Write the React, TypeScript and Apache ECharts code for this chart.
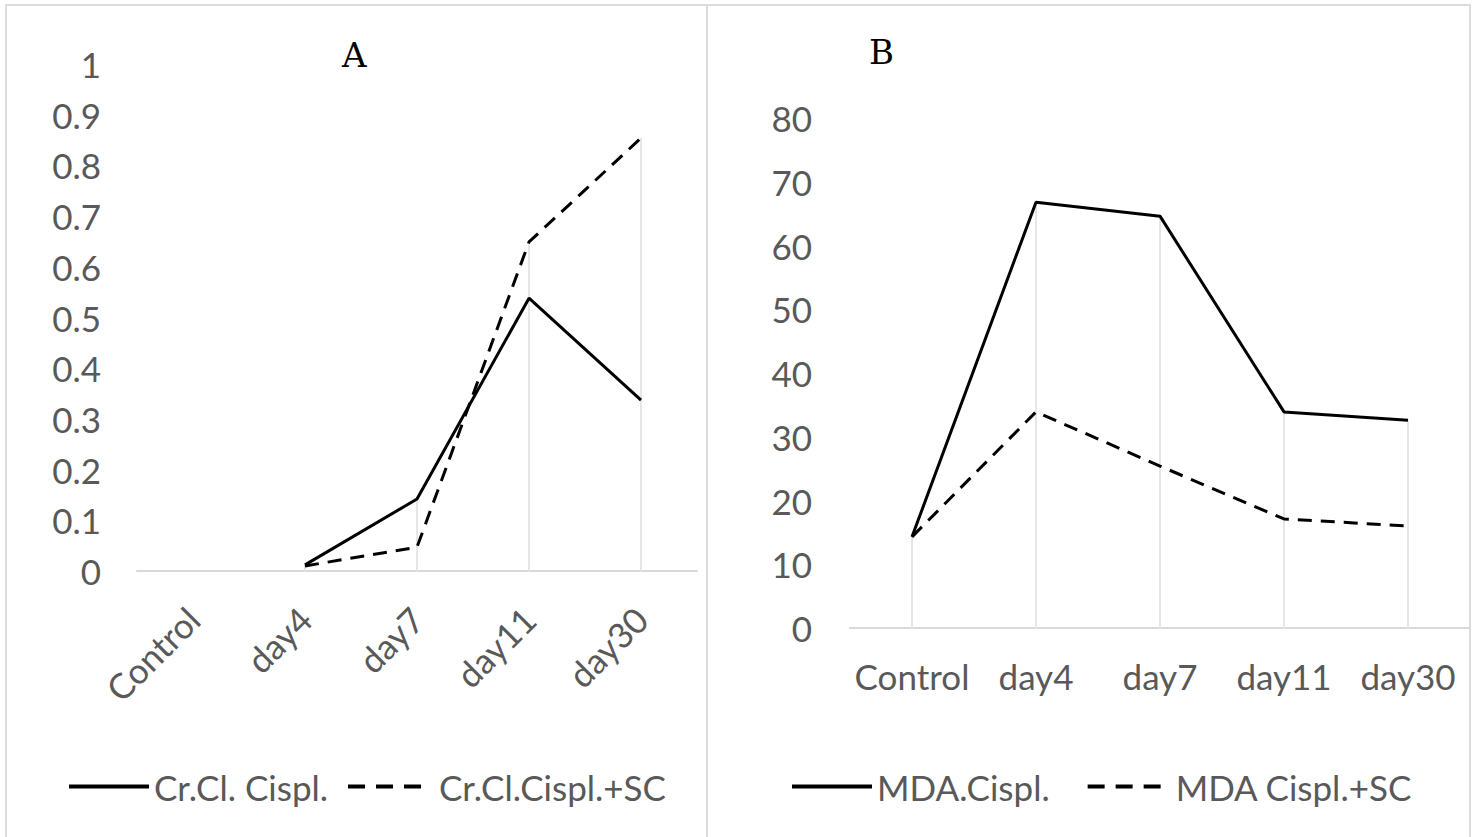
import React, { useEffect, useRef } from "react";
import * as echarts from "echarts";

const categories = ["Control", "day4", "day7", "day11", "day30"];
const crClCispl: (number | null)[] = [null, 0.012, 0.142, 0.538, 0.337];
const crClCisplSC: (number | null)[] = [null, 0.01, 0.047, 0.649, 0.854];
const mdaCispl = [14.3, 66.8, 64.6, 33.9, 32.6];
const mdaCisplSC = [14.3, 33.9, 25.4, 17.1, 16.0];
const yTicksA = { min: 0, max: 1, interval: 0.1 };
const yTicksB = { min: 0, max: 80, interval: 10 };

const FONT = "Lato";
const GRAY = "#595959";
const GRID = "#d9d9d9";

function maxOf(a: (number | null)[], b: (number | null)[]) {
  return a.map((v, i) => {
    const w = b[i];
    if (v == null && w == null) return null;
    return Math.max(v ?? -Infinity, w ?? -Infinity);
  });
}

export default function App() {
  const ref = useRef<HTMLDivElement>(null);
  useEffect(() => {
    const chart = echarts.init(ref.current!, null, { renderer: "svg" });
    const axisLabel = { color: GRAY, fontFamily: FONT, fontSize: 35 };
    const solid = { color: "#000", width: 3, type: "solid" as const };
    const dashed = { color: "#000", width: 3, type: [14, 9] as any };
    const legendCommon = {
      top: 764,
      itemWidth: 80,
      itemHeight: 4,
      itemStyle: { opacity: 0 },
      lineStyle: { width: 4 },
      textStyle: { color: GRAY, fontFamily: FONT, fontSize: 35 },
    };
    const solidLegendItem = (name: string) => ({
      name,
      lineStyle: { width: 4 },
    });
    const dashedLegendItem = (name: string, pad: number) => ({
      name,
      lineStyle: { width: 4, type: [17, 11] },
      textStyle: { padding: [0, 0, 0, pad] },
    });
    chart.setOption({
      animation: false,
      backgroundColor: "#fff",
      graphic: [
        {
          type: "rect",
          shape: { x: 6, y: 5, width: 1464, height: 860 },
          style: { fill: "none", stroke: "#dcdcdc", lineWidth: 2 },
          silent: true,
        },
        {
          type: "line",
          shape: { x1: 707, y1: 5, x2: 707, y2: 837 },
          style: { stroke: "#dcdcdc", lineWidth: 2 },
          silent: true,
        },
        {
          type: "text",
          left: 342,
          top: 38,
          style: { text: "A", fontFamily: "DejaVu Serif", fontSize: 34, fill: "#000" },
        },
        {
          type: "text",
          left: 869,
          top: 35,
          style: { text: "B", fontFamily: "DejaVu Serif", fontSize: 34, fill: "#000" },
        },
      ],
      grid: [
        { left: 137, top: 64, width: 560, height: 507 },
        { left: 850, top: 118, width: 620, height: 510 },
      ],
      xAxis: [
        {
          type: "category",
          gridIndex: 0,
          data: categories,
          boundaryGap: true,
          axisLine: { lineStyle: { color: GRID, width: 2 } },
          axisTick: { show: false },
          axisLabel: { ...axisLabel, rotate: 45, margin: 42, interval: 0 },
          splitLine: { show: false },
        },
        {
          type: "category",
          gridIndex: 1,
          data: categories,
          boundaryGap: true,
          axisLine: { lineStyle: { color: GRID, width: 2 } },
          axisTick: { show: false },
          axisLabel: { ...axisLabel, margin: 30, interval: 0 },
          splitLine: { show: false },
        },
      ],
      yAxis: [
        {
          type: "value",
          gridIndex: 0,
          ...yTicksA,
          axisLine: { show: false },
          axisTick: { show: false },
          splitLine: { show: false },
          axisLabel: { ...axisLabel, margin: 36 },
        },
        {
          type: "value",
          gridIndex: 1,
          ...yTicksB,
          axisLine: { show: false },
          axisTick: { show: false },
          splitLine: { show: false },
          axisLabel: { ...axisLabel, margin: 38 },
        },
      ],
      legend: [
        {
          ...legendCommon,
          data: [solidLegendItem("Cr.Cl. Cispl."), dashedLegendItem("Cr.Cl.Cispl.+SC", 6)],
          left: 62,
          itemGap: 18,
        },
        {
          ...legendCommon,
          data: [solidLegendItem("MDA.Cispl."), dashedLegendItem("MDA Cispl.+SC", 3)],
          left: 785,
          itemGap: 36,
        },
      ],
      series: [
        {
          type: "bar",
          xAxisIndex: 0,
          yAxisIndex: 0,
          data: maxOf(crClCispl, crClCisplSC),
          barWidth: 2,
          itemStyle: { color: "#e6e6e6" },
          silent: true,
          z: 1,
        },
        {
          type: "bar",
          xAxisIndex: 1,
          yAxisIndex: 1,
          data: maxOf(mdaCispl, mdaCisplSC),
          barWidth: 2,
          itemStyle: { color: "#e6e6e6" },
          silent: true,
          z: 1,
        },
        {
          name: "Cr.Cl. Cispl.",
          type: "line",
          xAxisIndex: 0,
          yAxisIndex: 0,
          data: crClCispl,
          symbol: "none",
          lineStyle: solid,
          itemStyle: { color: "#000" },
          z: 3,
        },
        {
          name: "Cr.Cl.Cispl.+SC",
          type: "line",
          xAxisIndex: 0,
          yAxisIndex: 0,
          data: crClCisplSC,
          symbol: "none",
          lineStyle: dashed,
          itemStyle: { color: "#000" },
          z: 3,
        },
        {
          name: "MDA.Cispl.",
          type: "line",
          xAxisIndex: 1,
          yAxisIndex: 1,
          data: mdaCispl,
          symbol: "none",
          lineStyle: solid,
          itemStyle: { color: "#000" },
          z: 3,
        },
        {
          name: "MDA Cispl.+SC",
          type: "line",
          xAxisIndex: 1,
          yAxisIndex: 1,
          data: mdaCisplSC,
          symbol: "none",
          lineStyle: dashed,
          itemStyle: { color: "#000" },
          z: 3,
        },
      ],
    });
    return () => chart.dispose();
  }, []);
  return (
    <div
      ref={ref}
      style={{ position: "fixed", left: 0, top: 0, width: 1476, height: 837, background: "#fff" }}
    />
  );
}
